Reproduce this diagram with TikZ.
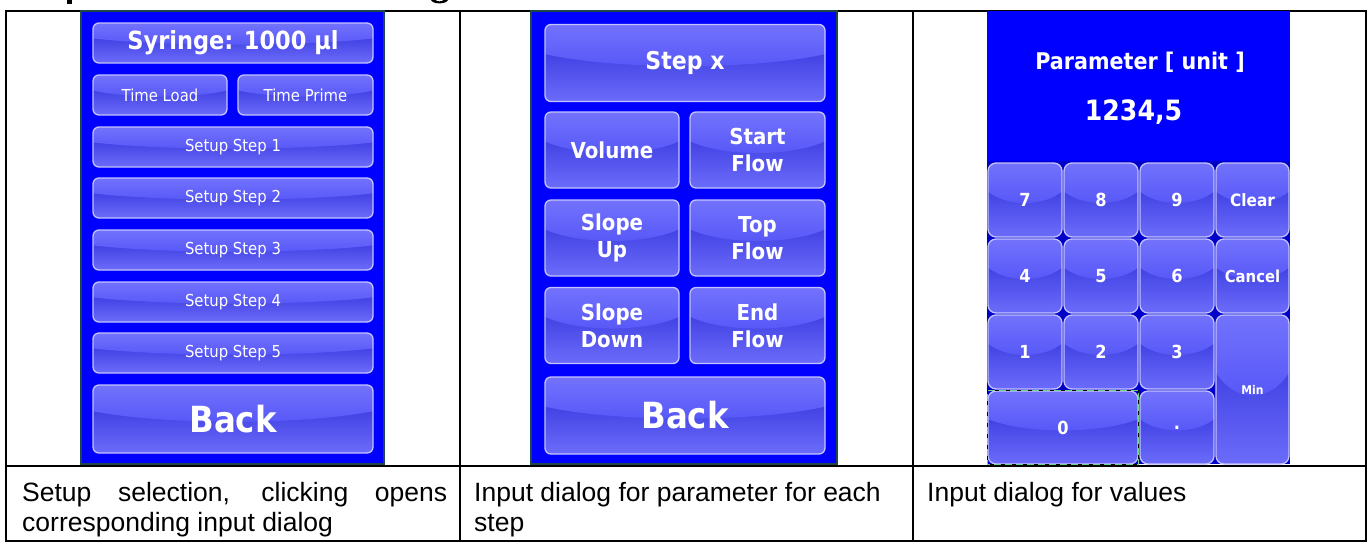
\documentclass[tikz,border=0pt]{standalone}
\usepackage{fontspec}
\setmainfont{Liberation Sans}
\newfontfamily\uiface[FakeStretch=0.9]{DejaVu Sans}
\usetikzlibrary{calc}

\definecolor{screenblue}{RGB}{0,0,255}
\definecolor{bezel}{RGB}{28,72,72}
\definecolor{padblue}{RGB}{0,0,200}
\definecolor{btnedge}{RGB}{195,195,255}
\definecolor{lowtop}{RGB}{40,40,215}
\definecolor{lowbot}{RGB}{108,108,250}
\definecolor{hitop}{RGB}{125,125,255}
\definecolor{hibot}{RGB}{88,88,248}
\definecolor{focusgreen}{RGB}{110,215,130}

\newcommand\uisize[2]{\uiface\fontsize{#1}{#2}\selectfont}

\tikzset{
  % glossy touch-screen button: dark lower gradient with a lighter curved highlight on top
  glossy/.style={draw=btnedge, line width=1.3pt, rounded corners=#1, inner sep=0pt,
    text=white, align=center,
    path picture={
      \shade[top color=lowtop, bottom color=lowbot]
        (path picture bounding box.south west) rectangle (path picture bounding box.north east);
      \shade[top color=hitop, bottom color=hibot]
        let \p1=(path picture bounding box.south west),
            \p2=(path picture bounding box.north east) in
        ({(\x1+\x2)/2}, {\y2-0.16*(\y2-\y1)})
        ellipse [x radius={0.62*(\x2-\x1)}, y radius={0.38*(\y2-\y1)}];
    }},
  glossy/.default=6pt,
  keybtn/.style={glossy=8pt, font={\uisize{18}{18}\bfseries}},
  screen/.style={fill=screenblue, inner sep=0pt, minimum height=453pt},
  caption/.style={anchor=base west, inner sep=0pt, font=\fontsize{26.5}{30}\selectfont},
  grid/.style={line width=1.6pt, black},
}

\begin{document}
\begin{tikzpicture}[x=1pt,y=-1pt]
\useasboundingbox (0,0) rectangle (1368,542);
\fill[white] (0,0) rectangle (1368,542);

% lower tips of the heading letters above the table (the rest lies off the page)
\fill[black] (67,0) rectangle (72,3.5);
\fill[black] (431,0) .. controls (433,4.5) and (446,4.5) .. (448,0)
  -- (443.5,0) .. controls (442,1.8) and (437,1.8) .. (435.5,0) -- cycle;

% table grid
\coordinate (tl) at (6,11);
\coordinate (br) at (1366,541);
\draw[grid] (tl) rectangle (br);
\draw[grid] (460,11) -- (460,541);
\draw[grid] (913,11) -- (913,541);
\draw[grid] (6,466) -- (1366,466);

% ---------- screen 1: setup selection ----------
\node[screen, draw=bezel, line width=1.5pt, minimum width=303pt] (scr1) at (232.5,237.5) {};
\node[glossy, minimum width=280pt, minimum height=40pt, font={\uisize{25}{25}\bfseries}] (syr) at (233,43) {Syringe: 1000 µl};
\node[glossy, minimum width=134pt, minimum height=40pt, font={\uisize{16.5}{16.5}}] (tload) at (160,95) {Time Load};
\node[glossy, minimum width=135pt, minimum height=40pt, font={\uisize{16.5}{16.5}}] (tprime) at (305.5,95) {Time Prime};
\foreach \i/\y in {1/147, 2/198, 3/250, 4/302, 5/353}{
  \node[glossy, minimum width=280pt, minimum height=40pt, font={\uisize{16.5}{16.5}}] (step\i) at (233,\y) {Setup Step \i};
}
\node[glossy, minimum width=280pt, minimum height=68pt, font={\uisize{36}{36}\bfseries}] (back1) at (233,419) {Back};

% ---------- screen 2: step parameters ----------
\node[screen, draw=bezel, line width=1.5pt, minimum width=306pt] (scr2) at (684,237.5) {};
\node[glossy, minimum width=280pt, minimum height=77pt, font={\uisize{24.5}{24.5}\bfseries}] (stepx) at (685,63) {Step x};
\tikzset{parbtn/.style={glossy, minimum height=76pt, font={\uisize{22}{27}\bfseries}}}
\node[parbtn, minimum width=134pt] (vol) at (612,150) {Volume};
\node[parbtn, minimum width=135pt] (sflow) at (757.5,150) {Start\\Flow};
\node[parbtn, minimum width=134pt] (sup) at (612,238) {Slope\\Up};
\node[parbtn, minimum width=135pt] (tflow) at (757.5,238) {Top\\Flow};
\node[parbtn, minimum width=134pt] (sdown) at (612,325.5) {Slope\\Down};
\node[parbtn, minimum width=135pt] (eflow) at (757.5,325.5) {End\\Flow};
\node[glossy, minimum width=280pt, minimum height=77pt, font={\uisize{36}{36}\bfseries}] (back2) at (685,415.5) {Back};

% ---------- screen 3: value keypad ----------
\node[screen, minimum width=303pt] (scr3) at (1138.5,237.5) {};
\node[font={\uisize{23}{23}\bfseries}, text=white, inner sep=0pt] (ptitle) at (1140,62) {Parameter [ unit ]};
\node[font={\uisize{28}{28}\bfseries}, text=white, inner sep=0pt] (pvalue) at (1133.5,112) {1234,5};
\node[fill=padblue, inner sep=0pt, minimum width=303pt, minimum height=303pt] (pad) at (1138.5,312.5) {};

\node[keybtn, minimum width=74pt, minimum height=74pt] (k7) at (1025,200) {7};
\node[keybtn, minimum width=74pt, minimum height=74pt] (k8) at (1101,200) {8};
\node[keybtn, minimum width=74pt, minimum height=74pt] (k9) at (1177,200) {9};
\node[keybtn, minimum width=73pt, minimum height=74pt, font={\uisize{17}{17}\bfseries}] (kclear) at (1252.5,200) {Clear};
\node[keybtn, minimum width=74pt, minimum height=74pt] (k4) at (1025,276) {4};
\node[keybtn, minimum width=74pt, minimum height=74pt] (k5) at (1101,276) {5};
\node[keybtn, minimum width=74pt, minimum height=74pt] (k6) at (1177,276) {6};
\node[keybtn, minimum width=73pt, minimum height=74pt, font={\uisize{16.5}{16.5}\bfseries}] (kcancel) at (1252.5,276) {Cancel};
\node[keybtn, minimum width=74pt, minimum height=74pt] (k1) at (1025,352) {1};
\node[keybtn, minimum width=74pt, minimum height=74pt] (k2) at (1101,352) {2};
\node[keybtn, minimum width=74pt, minimum height=74pt] (k3) at (1177,352) {3};
\node[keybtn, minimum width=73pt, minimum height=149pt, font={\uisize{12}{12}\bfseries}] (kmin) at (1252.5,389.5) {Min};
\node[keybtn, minimum width=150pt, minimum height=73pt] (k0) at (1063,427.5) {0};
\node[keybtn, minimum width=74pt, minimum height=73pt] (kdot) at (1177,427.5) {.};
% focus frame on the "0" key
\draw[focusgreen, line width=1.4pt] (k0.north west) rectangle (k0.south east);
\draw[black, line width=0.9pt, dash pattern=on 4pt off 7pt] (k0.north west) rectangle (k0.south east);

% ---------- captions ----------
\node[caption] (cap1a) at (22,501) {\makebox[425pt][s]{Setup selection, clicking opens}};
\node[caption] (cap1b) at (22,531) {corresponding input dialog};
\node[caption] (cap2a) at (474,501) {Input dialog for parameter for each};
\node[caption] (cap2b) at (474,531) {step};
\node[caption] (cap3) at (927,501) {Input dialog for values};
\end{tikzpicture}
\end{document}
